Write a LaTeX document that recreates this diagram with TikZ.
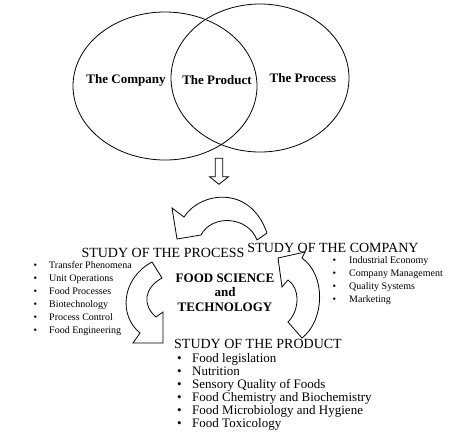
\documentclass[tikz,border=0pt]{standalone}
\usepackage{fontspec}
\setmainfont{Liberation Serif}
\usetikzlibrary{shapes.geometric}

\begin{document}
\begin{tikzpicture}[
    x=1pt, y=-1pt,
    venn/.style={draw, ellipse, line width=0.8pt, inner sep=0pt},
    vlabel/.style={font=\fontsize{13}{15}\selectfont\bfseries, inner sep=0pt},
    heading/.style={font=\fontsize{14}{16}\selectfont, inner sep=0pt},
    core/.style={font=\fontsize{13}{14.5}\selectfont\bfseries, align=center, inner sep=0pt},
    bigarrow/.style={draw, line width=0.8pt, line join=miter},
    smalllist/.style={anchor=base west, inner sep=0pt, font=\fontsize{10}{13}\selectfont},
    biglist/.style={anchor=base west, inner sep=0pt, font=\fontsize{13}{13}\selectfont}
]
    \useasboundingbox (0,0) rectangle (474,437);

    % Venn: firma, produs, proces
    \node[venn, minimum width=184pt, minimum height=148pt] (company) at (165,86) {};
    \node[venn, minimum width=178pt, minimum height=148pt] (process) at (260,78) {};
    \node[vlabel] (lcompany) at (126,80) {The Company};
    \node[vlabel] (lproduct) at (217,80) {The Product};
    \node[vlabel] (lprocess) at (303,78) {The Process};

    % Sageata in jos
    \draw[line width=0.8pt] (215.3,158.3) -- (222.7,158.3) -- (222.7,176.7) -- (228.5,176.7)
        -- (219,184.3) -- (209.5,176.7) -- (215.3,176.7) -- cycle;

    % Sagetile curbe (ciclul)
    \draw[bigarrow] (184,217) .. controls (200,192) and (250,184) .. (267,233) -- (257,240)
        .. controls (248,216) and (212,214) .. (201,235) -- (177,239) -- (172,208) -- cycle;
    \draw[bigarrow] (152,262) .. controls (122,278) and (118,315) .. (140,333) -- (133,343)
        -- (163,343) -- (163,312) -- (156,317) .. controls (142,305) and (144,288) .. (162,278) -- cycle;
    \draw[bigarrow] (302,338) .. controls (325,320) and (326,275) .. (302,258) -- (305,252)
        -- (278,258) -- (282,287) -- (288,280) .. controls (300,288) and (300,310) .. (288,322) -- cycle;

    % Centru
    \node[core] (fst) at (225,292.5) {FOOD SCIENCE\\and\\TECHNOLOGY};

    % Studiul procesului
    \node[heading] (sprocess) at (163,253) {STUDY OF THE PROCESS};
    \node[smalllist] (proclist) at (33.5,268) {\begin{tabular}[t]{@{}l@{\hspace{12pt}}l@{}}
        \textbullet & Transfer Phenomena\\
        \textbullet & Unit Operations\\
        \textbullet & Food Processes\\
        \textbullet & Biotechnology\\
        \textbullet & Process Control\\
        \textbullet & Food Engineering
    \end{tabular}};

    % Studiul firmei
    \node[heading] (scompany) at (333,248) {STUDY OF THE COMPANY};
    \node[smalllist] (complist) at (332.5,263.5) {\begin{tabular}[t]{@{}l@{\hspace{13pt}}l@{}}
        \textbullet & Industrial Economy\\
        \textbullet & Company Management\\
        \textbullet & Quality Systems\\
        \textbullet & Marketing
    \end{tabular}};

    % Studiul produsului
    \node[heading] (sproduct) at (258,344) {STUDY OF THE PRODUCT};
    \node[biglist] (prodlist) at (177,362) {\begin{tabular}[t]{@{}l@{\hspace{10.5pt}}l@{}}
        \textbullet & Food legislation\\
        \textbullet & Nutrition\\
        \textbullet & Sensory Quality of Foods\\
        \textbullet & Food Chemistry and Biochemistry\\
        \textbullet & Food Microbiology and Hygiene\\
        \textbullet & Food Toxicology
    \end{tabular}};
\end{tikzpicture}
\end{document}
